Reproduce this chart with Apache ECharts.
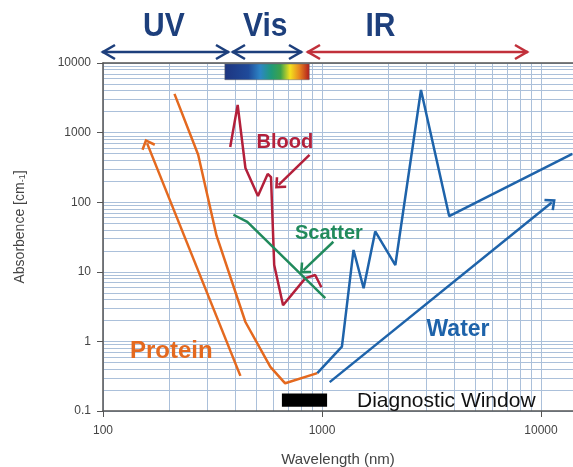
<!DOCTYPE html>
<html>
<head>
<meta charset="utf-8">
<title>Absorbence vs wavelength</title>
<script src="https://cdn.jsdelivr.net/npm/echarts@6/dist/echarts.min.js"></script>
<style>
  html, body { margin: 0; padding: 0; background: #fff; }
  #chart { width: 573px; height: 467px; }
</style>
</head>
<body>
<div id="chart"></div>
<script>
// [wavelength nm, absorbence 1/cm]
const proteinPts = [[212, 3600], [272, 480], [330, 33], [447, 1.9], [581, 0.43], [679, 0.25], [952, 0.35]]
const bloodPts = [[381, 620], [412, 2500], [447, 310], [510, 123], [565, 255], [585, 229], [605, 12.5], [664, 3.3], [840, 8.1], [931, 9.0], [993, 6.0]]
const scatterPts = [[394, 66], [456, 52], [1035, 4.2]]
const waterPts = [[952, 0.35], [1233, 0.84], [1393, 20.6], [1549, 5.8], [1750, 38], [2162, 12.5], [2831, 4100], [3810, 63], [13900, 495]]

// trend arrows [from, to]
const proteinArrow = [[424, 0.32], [159, 700]]
const bloodArrow = [[877, 480], [634, 177]]
const scatterArrow = [[1127, 27], [824, 10.6]]
const waterArrow = [[1084, 0.26], [11200, 99]]

const visibleBand = [360, 875]
const diagWindow = [656, 1055]

const xTicks = [100, 1000, 10000]
const yTicks = [0.1, 1, 10, 100, 1000, 10000]

const gridColor = '#abc0da'
const axisColor = '#555'
const navy = '#1d3f7c'
const font = 'Liberation Sans, Arial, sans-serif'

// open chevron, tip pointing up (markLine rotates it along the line)
const chevron = 'path://M0,0 L10,9 L7.6,11 L0,4.2 L-7.6,11 L-10,9 Z'

function arrowLine(pts, color) {
  return {
    silent: true,
    symbol: ['none', chevron],
    symbolSize: [15, 10],
    label: { show: false },
    lineStyle: { color: color, width: 2.5, type: 'solid' },
    emphasis: { disabled: true },
    data: [[{ coord: pts[0] }, { coord: pts[1] }]]
  }
}

function curve(name, pts, color, arrow) {
  return {
    name: name,
    type: 'line',
    data: pts,
    showSymbol: false,
    symbol: 'none',
    lineStyle: { color: color, width: 2.5 },
    itemStyle: { color: color },
    z: 5,
    markLine: arrowLine(arrow, color)
  }
}

// double headed arrows over the plot
function rangeArrow(x1, x2, y, color) {
  const s = { stroke: color, lineWidth: 2.6, fill: null }
  return [
    { type: 'polyline', shape: { points: [[x1, y], [x2, y]] }, style: s },
    { type: 'polyline', shape: { points: [[x1 + 13, y - 7], [x1 + 1, y], [x1 + 13, y + 7]] }, style: s },
    { type: 'polyline', shape: { points: [[x2 - 13, y - 7], [x2 - 1, y], [x2 - 13, y + 7]] }, style: s }
  ]
}

function label(text, x, y, size, color, weight, sy) {
  return {
    type: 'text', x: x, y: y, scaleY: sy || 1, z: 20,
    style: {
      text: text, fill: color, align: 'left', verticalAlign: 'middle',
      font: (weight || 'bold') + ' ' + size + 'px ' + font
    }
  }
}

const chart = echarts.init(document.getElementById('chart'))

chart.setOption({
  animation: false,
  grid: { left: 103, right: 0, top: 63, bottom: 56, outerBoundsMode: 'none' },
  xAxis: [
    {
      type: 'log',
      logBase: 10,
      min: 100,
      max: 14000,
      name: 'Wavelength (nm)',
      nameLocation: 'middle',
      nameGap: 41,
      nameTextStyle: { fontSize: 15, color: '#444', fontFamily: font },
      axisLine: { onZero: false, lineStyle: { color: axisColor, width: 1.5 } },
      axisTick: { length: 6, lineStyle: { color: axisColor } },
      axisLabel: {
        color: '#444', fontSize: 12, margin: 14, fontFamily: font,
        showMaxLabel: false,
        formatter: v => (xTicks.indexOf(+v) >= 0 ? String(+v) : '')
      },
      splitLine: { show: true, lineStyle: { color: gridColor, width: 1 } },
      minorTick: { show: false, splitNumber: 9 },
      minorSplitLine: { show: true, lineStyle: { color: gridColor, width: 1 } }
    },
    {
      // top frame line
      type: 'log',
      min: 100,
      max: 14000,
      position: 'top',
      axisLine: { show: true, onZero: false, lineStyle: { color: axisColor, width: 1.5 } },
      axisTick: { show: false },
      axisLabel: { show: false },
      splitLine: { show: false }
    }
  ],
  yAxis: {
    type: 'log',
    logBase: 10,
    min: 0.1,
    max: 10000,
    name: 'Absorbence [cm{sub|-1}]',
    nameLocation: 'middle',
    nameRotate: 90,
    nameGap: 76,
    nameTextStyle: {
      fontSize: 14, color: '#444', fontFamily: font, padding: [0, 0, 0, 20],
      rich: { sub: { fontSize: 9, color: '#444', fontFamily: font, verticalAlign: 'bottom' } }
    },
    axisLine: { show: true, onZero: false, lineStyle: { color: axisColor, width: 1.5 } },
    axisTick: { show: true, length: 6, lineStyle: { color: axisColor } },
    axisLabel: {
      color: '#444', fontSize: 12, margin: 12, fontFamily: font,
      showMinLabel: true, showMaxLabel: true,
      formatter: v => (yTicks.indexOf(+v) >= 0 ? String(+v) : '')
    },
    splitLine: { show: true, lineStyle: { color: gridColor, width: 1 } },
    minorTick: { show: false, splitNumber: 9 },
    minorSplitLine: { show: true, lineStyle: { color: gridColor, width: 1 } }
  },
  series: [
    {
      name: 'bands',
      type: 'line',
      data: [],
      silent: true,
      markArea: {
        silent: true,
        data: [
          [
            {
              coord: [visibleBand[0], 9700],
              itemStyle: {
                borderColor: '#666', borderWidth: 0.5,
                color: {
                  type: 'linear', x: 0, y: 0, x2: 1, y2: 0,
                  colorStops: [
                    { offset: 0, color: '#1d3580' },
                    { offset: 0.28, color: '#1f4a9a' },
                    { offset: 0.42, color: '#2d86c6' },
                    { offset: 0.55, color: '#1f9a78' },
                    { offset: 0.66, color: '#3da24a' },
                    { offset: 0.77, color: '#f4e21e' },
                    { offset: 0.88, color: '#e8861f' },
                    { offset: 1, color: '#b0191e' }
                  ]
                }
              }
            },
            { coord: [visibleBand[1], 5750] }
          ],
          [
            { coord: [diagWindow[0], 0.179], itemStyle: { color: '#000' } },
            { coord: [diagWindow[1], 0.115] }
          ]
        ]
      }
    },
    curve('Protein', proteinPts, '#e4691f', proteinArrow),
    curve('Blood', bloodPts, '#b3203b', bloodArrow),
    curve('Scatter', scatterPts, '#218a5c', scatterArrow),
    curve('Water', waterPts, '#1e63aa', waterArrow)
  ],
  graphic: [].concat(
    rangeArrow(102, 229, 52, navy),
    rangeArrow(232, 302, 52, navy),
    rangeArrow(307, 528, 52, '#c1303b'),
    [
      label('UV', 143, 27, 30, navy, 'bold', 1.08),
      label('Vis', 243, 27, 30, navy, 'bold', 1.08),
      label('IR', 365.5, 27, 30, navy, 'bold', 1.08),
      label('Protein', 130, 351.5, 24, '#e4691f'),
      label('Blood', 256.5, 142, 20, '#b3203b'),
      label('Scatter', 295, 233.5, 20, '#218a5c'),
      label('Water', 426.5, 330, 23, '#1e63aa'),
      label('Diagnostic Window', 357, 401, 21, '#111', 'normal')
    ]
  )
})
</script>
</body>
</html>
